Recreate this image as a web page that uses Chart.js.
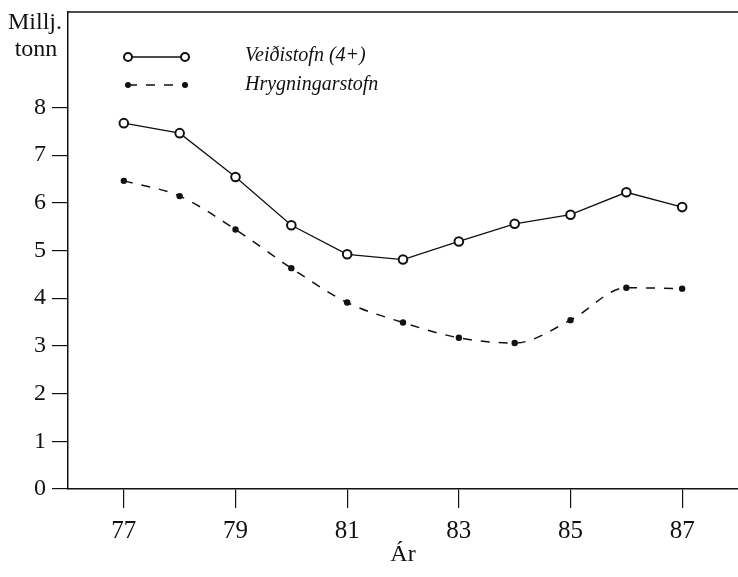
<!DOCTYPE html>
<html>
<head>
<meta charset="utf-8">
<script src="https://cdn.jsdelivr.net/npm/chart.js@4.4.0/dist/chart.umd.min.js"></script>
<style>
  html, body { margin: 0; padding: 0; background: #fff; }
  #wrap { width: 738px; height: 577px; }
</style>
</head>
<body>
<div id="wrap"><canvas id="stock" width="738" height="577"></canvas></div>
<script>
// values (millions of tonnes)
var years = [77, 78, 79, 80, 81, 82, 83, 84, 85, 86, 87];
var veidistofn = [7.67, 7.46, 6.54, 5.53, 4.92, 4.81, 5.19, 5.56, 5.75, 6.22, 5.91];
var hrygningarstofn = [6.46, 6.14, 5.44, 4.63, 3.91, 3.49, 3.17, 3.06, 3.54, 4.22, 4.20];
var xTicks = [77, 79, 81, 83, 85, 87];
var yTicks = [0, 1, 2, 3, 4, 5, 6, 7, 8];

var serif = "'Liberation Serif', 'Times New Roman', serif";

var toPoints = function(xs, ys) {
    var pts = [];
    for (var i = 0; i < xs.length; i++) {
        pts.push({ x: xs[i], y: ys[i] });
    }
    return pts;
};

// frame top line, y-axis caption and the in-plot legend
var decor = {
    id: 'decor',
    afterDraw: function(chart) {
        var ctx = chart.ctx;
        var area = chart.chartArea;
        ctx.save();
        ctx.strokeStyle = '#111';
        ctx.lineWidth = 1.5;
        ctx.beginPath();
        ctx.moveTo(area.left, area.top);
        ctx.lineTo(chart.width, area.top);
        ctx.stroke();

        ctx.fillStyle = '#111';
        ctx.font = '24px ' + serif;
        ctx.textAlign = 'center';
        ctx.textBaseline = 'middle';
        ctx.fillText('Millj.', 35, 23);
        ctx.fillText('tonn', 36, 50);

        // legend row 1: solid with open circles
        ctx.lineWidth = 1.3;
        ctx.setLineDash([]);
        ctx.beginPath();
        ctx.moveTo(128, 57);
        ctx.lineTo(185, 57);
        ctx.stroke();
        [128, 185].forEach(function(x) {
            ctx.beginPath();
            ctx.arc(x, 57, 4, 0, Math.PI * 2);
            ctx.fillStyle = '#fff';
            ctx.fill();
            ctx.lineWidth = 2;
            ctx.stroke();
        });

        // legend row 2: dashed with dots
        ctx.lineWidth = 1.5;
        ctx.setLineDash([9, 9]);
        ctx.beginPath();
        ctx.moveTo(128, 85);
        ctx.lineTo(185, 85);
        ctx.stroke();
        ctx.setLineDash([]);
        ctx.fillStyle = '#111';
        [128, 185].forEach(function(x) {
            ctx.beginPath();
            ctx.arc(x, 85, 3, 0, Math.PI * 2);
            ctx.fill();
        });

        ctx.font = 'italic 20px ' + serif;
        ctx.textAlign = 'left';
        ctx.fillText('Veiðistofn (4+)', 245, 56);
        ctx.fillText('Hrygningarstofn', 245, 85);
        ctx.restore();
    }
};

new Chart(document.getElementById('stock'), {
    type: 'line',
    data: {
        datasets: [
            {
                label: 'Veiðistofn (4+)',
                data: toPoints(years, veidistofn),
                borderColor: '#111',
                borderWidth: 1.3,
                pointRadius: 4.3,
                pointBorderWidth: 2,
                pointBackgroundColor: '#fff',
                pointBorderColor: '#111',
                tension: 0
            },
            {
                label: 'Hrygningarstofn',
                data: toPoints(years, hrygningarstofn),
                borderColor: '#111',
                borderWidth: 1.5,
                borderDash: [9, 9],
                pointRadius: 3.2,
                pointBorderWidth: 0,
                pointBackgroundColor: '#111',
                cubicInterpolationMode: 'monotone'
            }
        ]
    },
    options: {
        responsive: false,
        animation: false,
        layout: { autoPadding: false, padding: { top: 12, left: 0, right: 0, bottom: 0 } },
        plugins: { legend: { display: false }, tooltip: { enabled: false } },
        scales: {
            x: {
                type: 'linear',
                min: 76,
                max: 88,
                afterBuildTicks: function(scale) {
                    scale.ticks = xTicks.map(function(v) { return { value: v }; });
                },
                afterFit: function(scale) {
                    scale.height = 88;
                    scale.paddingLeft = 0;
                    scale.paddingRight = 0;
                },
                border: { display: true, color: '#111', width: 1.5 },
                grid: { drawOnChartArea: false, drawTicks: true, tickLength: 19, color: '#111', lineWidth: 1.2 },
                ticks: {
                    color: '#111',
                    padding: 8,
                    maxRotation: 0,
                    font: { family: serif, size: 25 },
                    callback: function(v) { return String(v); }
                },
                title: {
                    display: true,
                    text: 'Ár',
                    color: '#111',
                    font: { family: serif, size: 24 },
                    padding: { top: 0, bottom: 8 }
                }
            },
            y: {
                min: 0,
                max: 10,
                afterBuildTicks: function(scale) {
                    scale.ticks = yTicks.map(function(v) { return { value: v }; });
                },
                afterFit: function(scale) {
                    scale.width = 68;
                    scale.paddingTop = 0;
                    scale.paddingBottom = 0;
                },
                border: { display: true, color: '#111', width: 1.5 },
                grid: { drawOnChartArea: false, drawTicks: true, tickLength: 16, color: '#111', lineWidth: 1.2 },
                ticks: {
                    color: '#111',
                    padding: 6,
                    font: { family: serif, size: 24 },
                    callback: function(v) { return String(v); }
                }
            }
        }
    },
    plugins: [decor]
});
</script>
</body>
</html>
